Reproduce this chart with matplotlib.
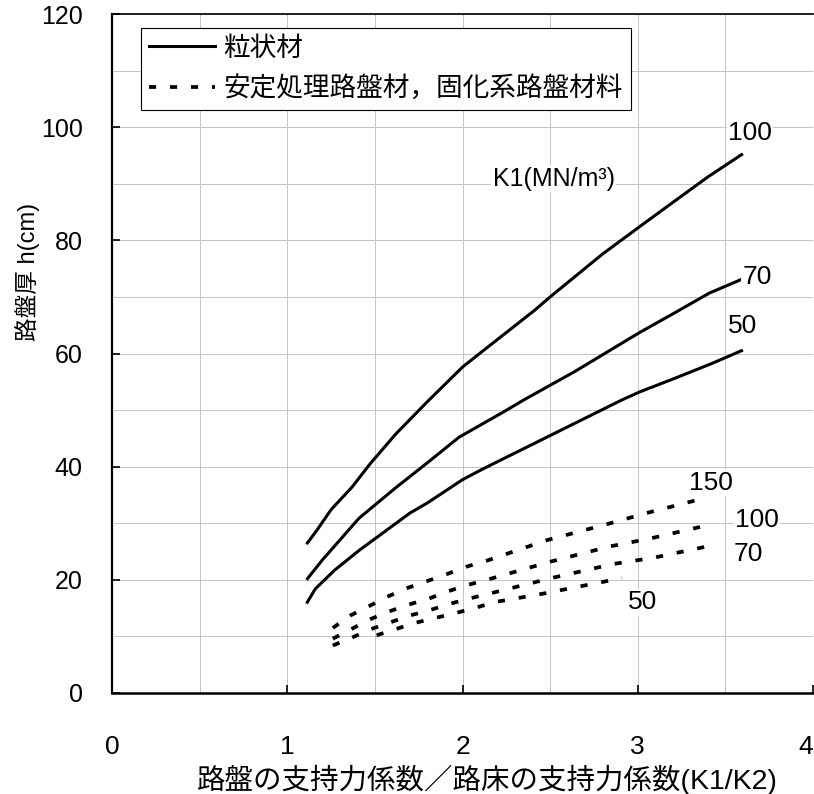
import matplotlib
matplotlib.use('Agg')
import matplotlib.pyplot as plt
import matplotlib.lines as mlines
import matplotlib.ticker as ticker
from matplotlib import font_manager

plt.rcParams['font.family'] = ['Liberation Sans', 'Noto Sans CJK JP']

# 粒状材 (solid), K1 = 100, 70, 50
x_g100 = [1.11, 1.17, 1.25, 1.37, 1.47, 1.62, 1.80, 2.00, 2.11, 2.41, 2.50, 2.80, 3.01, 3.20, 3.40, 3.60]
h_g100 = [26.3, 28.8, 32.4, 36.4, 40.4, 45.8, 51.5, 57.6, 60.3, 67.6, 70.0, 77.6, 82.4, 86.7, 91.2, 95.3]
x_g70 = [1.11, 1.20, 1.41, 1.62, 1.80, 1.98, 2.23, 2.35, 2.64, 3.01, 3.20, 3.41, 3.60]
h_g70 = [20.0, 23.5, 30.9, 36.3, 40.7, 45.2, 49.6, 51.8, 56.8, 63.7, 67.0, 70.7, 73.2]
x_g50 = [1.11, 1.16, 1.27, 1.41, 1.70, 1.80, 2.00, 2.11, 2.50, 2.91, 3.01, 3.21, 3.42, 3.60]
h_g50 = [15.8, 18.4, 21.7, 25.2, 31.8, 33.6, 37.7, 39.5, 45.5, 51.8, 53.2, 55.6, 58.2, 60.6]

# 安定処理路盤材, 固化系路盤材料 (dashed), K1 = 150, 100, 70, 50
x_s150 = [1.26, 1.36, 1.47, 1.57, 1.68, 1.80, 1.91, 2.02, 2.15, 2.48, 2.82, 3.05, 3.40]
h_s150 = [11.5, 13.7, 15.4, 17.0, 18.5, 19.8, 21.0, 22.3, 23.5, 27.0, 29.8, 31.8, 34.6]
x_s100 = [1.26, 1.36, 1.47, 1.58, 1.69, 1.81, 1.91, 2.03, 2.15, 2.50, 2.84, 3.07, 3.42]
h_s100 = [9.6, 11.2, 13.0, 14.4, 15.6, 16.7, 17.9, 19.1, 20.1, 23.2, 25.9, 27.3, 29.8]
x_s70 = [1.26, 1.37, 1.47, 1.58, 1.70, 1.81, 1.92, 2.04, 2.17, 2.52, 2.86, 3.09, 3.44]
h_s70 = [8.4, 9.8, 11.2, 12.4, 13.7, 14.6, 15.7, 16.7, 17.7, 20.4, 22.8, 23.9, 26.2]
x_s50 = [1.51, 1.62, 1.73, 1.85, 1.97, 2.09, 2.19, 2.45, 2.91]
h_s50 = [10.2, 11.3, 12.4, 13.3, 14.2, 15.2, 16.1, 17.5, 20.3]

x_ticks = [0, 1, 2, 3, 4]
y_ticks = [0, 20, 40, 60, 80, 100, 120]

# narrow font for x tick digits if there is one
names = {f.name for f in font_manager.fontManager.ttflist}
narrow = 'Liberation Sans Narrow' if 'Liberation Sans Narrow' in names else 'Liberation Sans'

fig = plt.figure(figsize=(8.14, 7.94), dpi=100)
ax = fig.add_axes([112 / 814, 101 / 794, 701 / 814, 679 / 794])

solid = dict(color='black', lw=2.2, solid_capstyle='butt')
dashed = dict(color='black', lw=2.7, linestyle=(0, (1.9, 3.7)))

ax.plot(x_g100, h_g100, **solid)
ax.plot(x_g70, h_g70, **solid)
ax.plot(x_g50, h_g50, **solid)
ax.plot(x_s150, h_s150, **dashed)
ax.plot(x_s100, h_s100, **dashed)
ax.plot(x_s70, h_s70, **dashed)
ax.plot(x_s50, h_s50, **dashed)

# curve labels
box = dict(facecolor='white', edgecolor='none', pad=1)
for txt, x, y in [('100', 3.64, 99.0), ('70', 3.68, 73.5), ('50', 3.60, 64.8),
                  ('150', 3.42, 37.2), ('100', 3.68, 30.5), ('70', 3.63, 24.6), ('50', 3.03, 16.0)]:
    ax.text(x, y, txt, fontsize=19, ha='center', va='center', bbox=box)
ax.text(2.52, 90.9, 'K1(MN/m³)', fontsize=18, ha='center', va='center', bbox=box)

ax.set_xlim(0, 4)
ax.set_ylim(0, 120)
ax.set_xticks(x_ticks)
ax.set_yticks(y_ticks)
ax.xaxis.set_minor_locator(ticker.MultipleLocator(0.5))
ax.yaxis.set_minor_locator(ticker.MultipleLocator(10))
ax.grid(which='both', color='#c4c4c4', linewidth=0.7)
ax.set_axisbelow(True)
ax.tick_params(which='major', direction='in', length=6, width=1.2)
ax.tick_params(which='minor', length=0)
ax.tick_params(axis='x', pad=30, labelsize=19)
ax.tick_params(axis='y', pad=21, labelsize=18)
for lab in ax.get_xticklabels():
    lab.set_family(narrow)
ax.get_xticklabels()[-1].set_horizontalalignment('right')

ax.spines['right'].set_visible(False)
ax.spines['left'].set_linewidth(1.6)
ax.spines['bottom'].set_linewidth(1.8)
ax.spines['top'].set_linewidth(1.2)

ax.set_xlabel('路盤の支持力係数／路床の支持力係数(K1/K2)', fontsize=20.5)
ax.xaxis.set_label_coords(0.535, -0.106)
ax.set_ylabel('路盤厚 h(cm)', fontsize=17)
ax.yaxis.set_label_coords(-0.102, 0.62)

h1 = mlines.Line2D([], [], color='black', lw=2.2, label='粒状材')
h2 = mlines.Line2D([], [], color='black', lw=2.7, linestyle=(0, (1.9, 3.7)),
                   label='安定処理路盤材，固化系路盤材料')
leg = ax.legend(handles=[h1, h2], loc='upper left', bbox_to_anchor=(0.041, 0.98),
                fontsize=19.2, fancybox=False, edgecolor='black', framealpha=1,
                borderpad=0.3, labelspacing=0.55, handlelength=2.5,
                handletextpad=0.3, borderaxespad=0)
leg.get_frame().set_linewidth(0.8)

fig.savefig('out.png', dpi=100)
